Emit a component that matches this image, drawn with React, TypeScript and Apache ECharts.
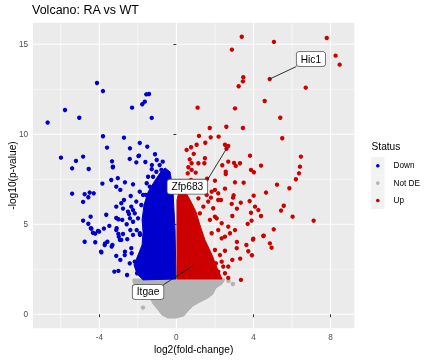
import React, { useEffect, useRef } from "react";
import * as echarts from "echarts";

const FONT = "'Liberation Sans', Arial, Helvetica, sans-serif";

const xTicks = [-4, 0, 4, 8];
const xMinor = [-6, -2, 2, 6];
const yTicks = [0, 5, 10, 15];
const yMinor = [2.5, 7.5, 12.5];

const statusNames = ["Down", "Not DE", "Up"];
const statusColors = ["#0000CD", "#B3B3B3", "#CD0000"];

const downPoints = [
  [-4.12, 12.85], [-3.81, 12.4], [-5.78, 11.35], [-5.04, 10.92], [-6.68, 10.65], [-2.3, 11.48], [-1.77, 11.67],
  [-1.64, 11.81], [-1.56, 12.22], [-1.42, 12.24], [-1.28, 10.91],
  [-3.81, 9.89], [-2.72, 9.81], [-3.6, 9.26], [-2.41, 9.22], [-1.9, 9.52], [-1.51, 9.31], [-5.99, 8.7], [-4.84, 8.76],
  [-5.21, 8.52], [-5.41, 8.11], [-4.55, 8.07], [-3.34, 8.5], [-3.29, 8.2], [-2.42, 8.63], [-1.94, 8.81], [-2.08, 8.44],
  [-1.61, 8.46], [-1.11, 8.89], [-1.02, 8.57], [-0.71, 8.48], [-1.27, 8.29], [-1.28, 8.06], [-1.97, 8.79], [-3.3, 8.17],
  [-3.84, 7.26], [-3.38, 7.46], [-3.04, 7.56], [-2.67, 7.33], [-3.12, 7.09], [-2.91, 6.91], [-2.25, 7.22], [-1.54, 7.28],
  [-5.41, 6.7], [-4.76, 6.67], [-4.5, 6.76], [-4.29, 6.72], [-4.57, 6.5], [-4.84, 6.24], [-2.37, 6.57], [-2.72, 6.35],
  [-2.86, 6.17], [-3.12, 5.98], [-2.77, 5.87], [-3.64, 5.53], [-4.45, 5.42], [-4.84, 5.2], [-4.57, 5.03], [-3.12, 5.35],
  [-2.81, 5.24], [-2.46, 5.57], [-3.48, 4.91], [-3.76, 4.76], [-4.41, 4.76], [-4.21, 4.48], [-3.12, 4.68], [-2.77, 4.46],
  [-2.39, 4.68], [-2.99, 4.31],
  [-1.9, 6.81], [-1.73, 6.63], [-2.08, 6.26], [-1.82, 6.07], [-2.16, 5.61], [-1.99, 5.33], [-2.25, 5.14], [-1.9, 4.5],
  [-1.47, 7.64], [-1.21, 7.64], [-1.38, 7.09], [-1.04, 7.92], [-0.87, 8.29], [-0.78, 8.02], [-1.59, 6.63], [-2.25, 5.79],
  [-2.51, 5.7], [-2.34, 5.98],
  [-4.76, 4.03], [-4.21, 4.0], [-3.72, 3.85], [-3.32, 3.85], [-3.89, 3.44], [-3.12, 3.24], [-2.91, 3.02], [-3.22, 2.37],
  [-3.01, 2.41], [-2.56, 2.18], [-2.42, 2.83], [-2.68, 3.29], [-2.04, 2.28], [-1.9, 2.56], [-4.33, 4.53], [-4.07, 4.63],
  [-2.86, 4.13], [-2.55, 4.17], [-2.25, 4.41], [-2.34, 3.67], [-2.16, 2.92],
  [-4.44, 4.78], [-4.01, 4.59], [-3.1, 4.78], [-3.01, 4.46], [-3.58, 4.03], [-3.36, 3.76], [-3.7, 3.94], [-2.93, 4.13],
  [-2.58, 5.0], [-3.01, 5.28], [-2.41, 5.33], [-2.06, 4.68], [-1.89, 4.41], [-2.67, 3.48], [-2.32, 3.39], [-3.91, 3.48],
];

const upPoints = [
  [3.39, 15.42], [5.06, 15.13], [7.8, 15.35], [2.88, 14.7], [8.26, 14.37], [8.47, 13.87], [3.47, 13.17], [3.45, 12.94],
  [3.23, 12.67], [4.84, 13.07], [6.71, 12.59], [1.1, 11.48], [3.04, 11.44], [4.58, 11.85], [5.39, 10.92], [1.73, 10.35],
  [2.59, 10.42], [3.45, 10.35],
  [1.17, 9.91], [1.78, 9.83], [2.19, 9.87], [0.76, 9.28], [1.05, 9.42], [1.5, 9.53], [2.52, 9.42], [2.69, 9.35],
  [5.49, 9.78], [0.9, 8.91], [0.69, 8.61], [1.48, 8.67], [1.45, 8.39], [1.14, 8.39], [3.82, 8.81], [6.46, 8.76],
  [2.69, 8.48], [2.99, 8.41], [3.3, 8.39], [3.08, 8.24], [2.38, 8.28], [4.39, 8.26], [6.41, 8.2], [0.62, 8.17],
  [0.79, 8.02], [1.0, 7.87], [0.59, 7.83], [2.56, 7.92], [2.56, 7.79], [3.87, 8.02], [4.02, 7.89], [6.36, 7.83],
  [6.2, 7.5], [1.59, 7.53], [2.0, 7.42], [3.04, 7.33], [3.49, 7.31], [5.22, 7.2], [5.86, 7.0], [2.52, 6.98],
  [1.83, 6.81], [2.0, 6.91], [2.17, 6.72], [4.65, 6.76], [2.97, 6.61], [4.01, 6.59], [2.94, 6.48], [1.79, 6.48],
  [2.31, 6.35], [3.8, 6.29], [3.34, 6.2], [2.87, 6.13], [3.14, 5.87], [4.08, 5.98], [5.57, 6.03], [5.43, 5.76],
  [3.87, 5.64], [4.25, 5.79], [4.39, 5.46], [2.9, 5.46], [2.09, 5.33], [6.03, 5.42], [7.12, 5.2], [3.9, 5.2],
  [3.7, 5.02], [5.05, 4.72], [3.04, 4.68], [4.51, 4.35], [3.99, 4.2],
  [4.53, 4.37], [3.97, 4.15], [4.85, 3.94], [4.94, 3.7], [3.63, 3.85], [3.73, 3.5], [3.92, 3.28], [3.31, 3.09],
  [3.35, 1.91], [2.69, 2.65], [2.69, 2.02], [2.52, 2.28], [3.13, 3.67], [2.9, 3.02], [3.14, 4.02], [2.78, 4.5],
  [2.35, 4.22], [2.52, 3.53], [2.26, 3.29], [2.35, 2.92], [2.05, 2.83], [2.0, 3.57], [2.17, 2.37], [2.43, 2.65],
  [2.0, 2.18],
  [0.76, 7.46], [0.96, 7.18], [1.31, 6.91], [1.57, 6.63], [1.14, 6.44], [1.65, 6.26], [1.4, 5.98], [1.91, 5.89],
  [2.17, 6.35], [1.22, 5.61], [2.0, 5.42], [1.74, 5.24], [2.35, 5.06], [2.69, 4.87], [2.17, 4.68], [2.52, 4.31],
  [1.83, 4.5], [0.53, 9.13], [0.79, 8.39], [2.6, 9.2],
];

const notDePoints = [
  [2.93, 1.68], [-1.73, 0.37], [2.7, 1.85], [-2.2, 1.5],
];

// Outlines of the densely packed (overplotted) regions
const downCore = [
  [-0.59, 8.13], [-0.33, 7.91], [-0.18, 6.91], [-0.07, 4.68], [-0.02, 1.96], [-1.73, 1.91], [-2.04, 2.24],
  [-2.2, 2.74], [-1.99, 3.29], [-1.78, 3.85], [-1.73, 4.57], [-1.78, 5.24], [-1.68, 6.07], [-1.47, 6.79],
  [-1.16, 7.35], [-0.85, 7.85],
];
const upCore = [
  [0.13, 6.79], [0.5, 6.74], [0.71, 6.35], [1.02, 5.68], [1.22, 4.96], [1.48, 4.13], [1.85, 3.29], [2.11, 2.57],
  [2.37, 1.96], [0.03, 1.96], [0.03, 6.35],
];
const notDeCore = [
  [-2.25, 1.96], [2.52, 1.96], [2.37, 1.68], [2.05, 1.46], [1.9, 1.13], [1.64, 0.91], [1.22, 0.68], [0.86, 0.46],
  [0.6, 0.18], [0.39, -0.09], [-0.02, -0.21], [-0.44, -0.21], [-0.75, -0.04], [-0.95, 0.24], [-1.21, 0.57],
  [-1.37, 0.91], [-1.63, 1.13], [-1.89, 1.35], [-2.15, 1.57], [-2.25, 1.79],
];

const labelGenes = ["Hic1", "Zfp683", "Itgae"];
const labelPoints = [[4.84, 13.07], [2.6, 9.2], [0.84, 2.68]];

export default function App() {
  const ref = useRef<HTMLDivElement>(null);

  useEffect(() => {
    if (!ref.current) return;
    const chart = echarts.init(ref.current, null, { renderer: "svg" });

    const labelAnchors = [[6.98, 14.18], [0.57, 7.09], [-1.47, 1.24]];
    const labelHalf = [[14.6, 7.5], [20, 6.7], [15.3, 7.2]];

    const coreSeries = (pts: number[][], color: string, z: number) => ({
      type: "custom",
      silent: true,
      z,
      data: [pts[0]],
      renderItem: (_params: any, api: any) => ({
        type: "polygon",
        shape: { points: pts.map((p) => api.coord(p)) },
        style: { fill: color, stroke: color, lineWidth: 1 },
      }),
    });

    const gridSeries = {
      type: "custom",
      silent: true,
      z: 0,
      data: [[0, 0]],
      renderItem: (params: any, api: any) => {
        const cs = params.coordSys;
        const children: any[] = [];
        const vline = (v: number, w: number) => {
          const p = api.coord([v, 0]);
          children.push({ type: "line", shape: { x1: p[0], y1: cs.y, x2: p[0], y2: cs.y + cs.height }, style: { stroke: "#FFFFFF", lineWidth: w } });
        };
        const hline = (v: number, w: number) => {
          const p = api.coord([0, v]);
          children.push({ type: "line", shape: { x1: cs.x, y1: p[1], x2: cs.x + cs.width, y2: p[1] }, style: { stroke: "#FFFFFF", lineWidth: w } });
        };
        xMinor.forEach((v) => vline(v, 0.55));
        yMinor.forEach((v) => hline(v, 0.55));
        xTicks.forEach((v) => vline(v, 1.1));
        yTicks.forEach((v) => hline(v, 1.1));
        return { type: "group", children };
      },
    };

    const scatter = (i: number, data: number[][]) => ({
      type: "scatter",
      name: statusNames[i],
      z: 3,
      symbol: "circle",
      symbolSize: 4.4,
      itemStyle: { color: statusColors[i], opacity: 1 },
      data,
    });

    const labelSeries = {
      type: "custom",
      silent: true,
      z: 10,
      data: labelPoints.map((p, i) => [p[0], p[1], labelAnchors[i][0], labelAnchors[i][1]]),
      renderItem: (params: any, api: any) => {
        const i = params.dataIndex;
        const pt = api.coord([api.value(0), api.value(1)]);
        const lb = api.coord([api.value(2), api.value(3)]);
        const [hw, hh] = labelHalf[i];
        const sx = Math.min(Math.max(pt[0], lb[0] - hw), lb[0] + hw);
        const sy = Math.min(Math.max(pt[1], lb[1] - hh), lb[1] + hh);
        return {
          type: "group",
          children: [
            { type: "line", shape: { x1: pt[0], y1: pt[1], x2: sx, y2: sy }, style: { stroke: "#1A1A1A", lineWidth: 0.9 } },
            {
              type: "text",
              x: lb[0],
              y: lb[1],
              style: {
                text: labelGenes[i],
                fill: "#000000",
                font: `10.2px ${FONT}`,
                align: "center",
                verticalAlign: "middle",
                backgroundColor: "#FFFFFF",
                borderColor: "#555555",
                borderWidth: 0.8,
                borderRadius: 2.5,
                padding: [2, 4, 2, 4],
              },
            },
          ],
        };
      },
    };

    const legendGraphics: any[] = [
      { type: "text", left: 371.5, top: 141.5, style: { text: "Status", fill: "#000", font: `10.2px ${FONT}` } },
    ];
    statusNames.forEach((n, i) => {
      const y0 = 157 + 17.4 * i;
      legendGraphics.push({ type: "rect", shape: { x: 371, y: y0, width: 13.5, height: 17.4 }, style: { fill: "#F2F2F2" } });
      legendGraphics.push({ type: "circle", shape: { cx: 377.8, cy: y0 + 8.7, r: 1.8 }, style: { fill: statusColors[i] } });
      legendGraphics.push({ type: "text", x: 393.5, y: y0 + 8.7, style: { text: n, fill: "#000", font: `8.2px ${FONT}`, verticalAlign: "middle" } });
    });

    chart.setOption({
      animation: false,
      title: {
        text: "Volcano: RA vs WT",
        left: 32,
        top: 3,
        padding: 0,
        textStyle: { fontFamily: FONT, fontSize: 12.5, fontWeight: "normal", color: "#000" },
      },
      grid: {
        left: 33,
        right: 77.7,
        top: 22.7,
        bottom: 31.7,
        show: true,
        backgroundColor: "#EBEBEB",
        borderWidth: 0,
        containLabel: false,
        outerBoundsMode: "none",
      },
      xAxis: {
        type: "value",
        min: -7.44,
        max: 9.23,
        splitLine: { show: false },
        axisLine: { show: false },
        axisTick: { show: true, length: 3, lineStyle: { color: "#333333", width: 1 }, customValues: xTicks },
        axisLabel: { customValues: xTicks, color: "#4D4D4D", fontSize: 8.2, fontFamily: FONT, margin: 5 },
        name: "log2(fold-change)",
        nameLocation: "middle",
        nameGap: 16.5,
        nameMoveOverlap: false,
        nameTextStyle: { color: "#000", fontSize: 10.2, fontFamily: FONT },
      },
      yAxis: {
        type: "value",
        min: -0.78,
        max: 16.2,
        splitLine: { show: false },
        axisLine: { show: false },
        axisTick: { show: true, length: 3, lineStyle: { color: "#333333", width: 1 }, customValues: yTicks },
        axisLabel: { customValues: yTicks, color: "#4D4D4D", fontSize: 8.2, fontFamily: FONT, margin: 5 },
        name: "-log10(p-value)",
        nameLocation: "middle",
        nameGap: 16,
        nameRotate: 90,
        nameMoveOverlap: false,
        nameTextStyle: { color: "#000", fontSize: 10.2, fontFamily: FONT },
      },
      graphic: legendGraphics,
      series: [
        gridSeries,
        coreSeries(notDeCore, statusColors[1], 1),
        scatter(1, notDePoints),
        coreSeries(downCore, statusColors[0], 2),
        coreSeries(upCore, statusColors[2], 2),
        scatter(0, downPoints),
        scatter(2, upPoints),
        labelSeries,
      ],
    });

    return () => chart.dispose();
  }, []);

  return <div ref={ref} style={{ position: "fixed", left: 0, top: 0, width: 432, height: 360 }} />;
}
